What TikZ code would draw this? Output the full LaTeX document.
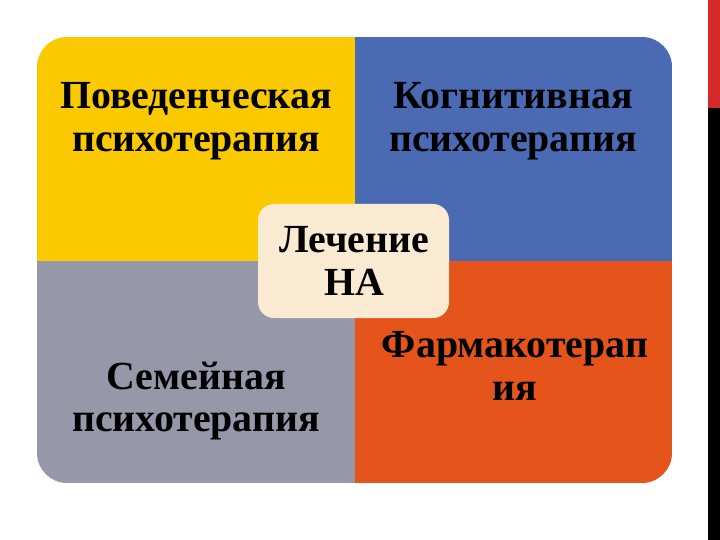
\documentclass[tikz,border=0pt]{standalone}
\usepackage{fontspec}
\setmainfont{Liberation Serif}
\definecolor{cyel}{HTML}{FBC900}
\definecolor{cblue}{HTML}{4A6AB3}
\definecolor{cgrey}{HTML}{9698A9}
\definecolor{corange}{HTML}{E4541B}
\definecolor{ccream}{HTML}{FBEAD2}
\definecolor{cred}{HTML}{D42A2A}
\tikzset{
  lbl/.style={align=center, font=\fontsize{40}{43}\selectfont\bfseries, text=black, inner sep=0pt},
}
\begin{document}
\begin{tikzpicture}[x=1bp,y=-1bp]
\useasboundingbox (0,0) rectangle (720,540);
\fill[white] (0,0) rectangle (720,540);
% right edge bar
\fill[cred] (708,0) rectangle (720,108);
\fill[black] (708,108) rectangle (720,540);
% quadrants
\begin{scope}
\clip[rounded corners=30bp] (37,37) rectangle (672,483);
\fill[cyel] (37,37) rectangle (355,261);
\fill[cblue] (355,37) rectangle (672,261);
\fill[cgrey] (37,261) rectangle (355,483);
\fill[corange] (355,261) rectangle (672,483);
\end{scope}
% centre box
\fill[ccream, rounded corners=16bp] (258,204) rectangle (449,318);
% texts
\node[lbl] (tl) at (196,121) {Поведенческая\\психотерапия};
\node[lbl] (tr) at (513,121) {Когнитивная\\психотерапия};
\node[lbl] (bl) at (196,401) {Семейная\\психотерапия};
\node[lbl] (br) at (515,366) {Фармакотерап\\ия};
\node[lbl] (c) at (354,261) {Лечение\\НА};
\end{tikzpicture}
\end{document}
